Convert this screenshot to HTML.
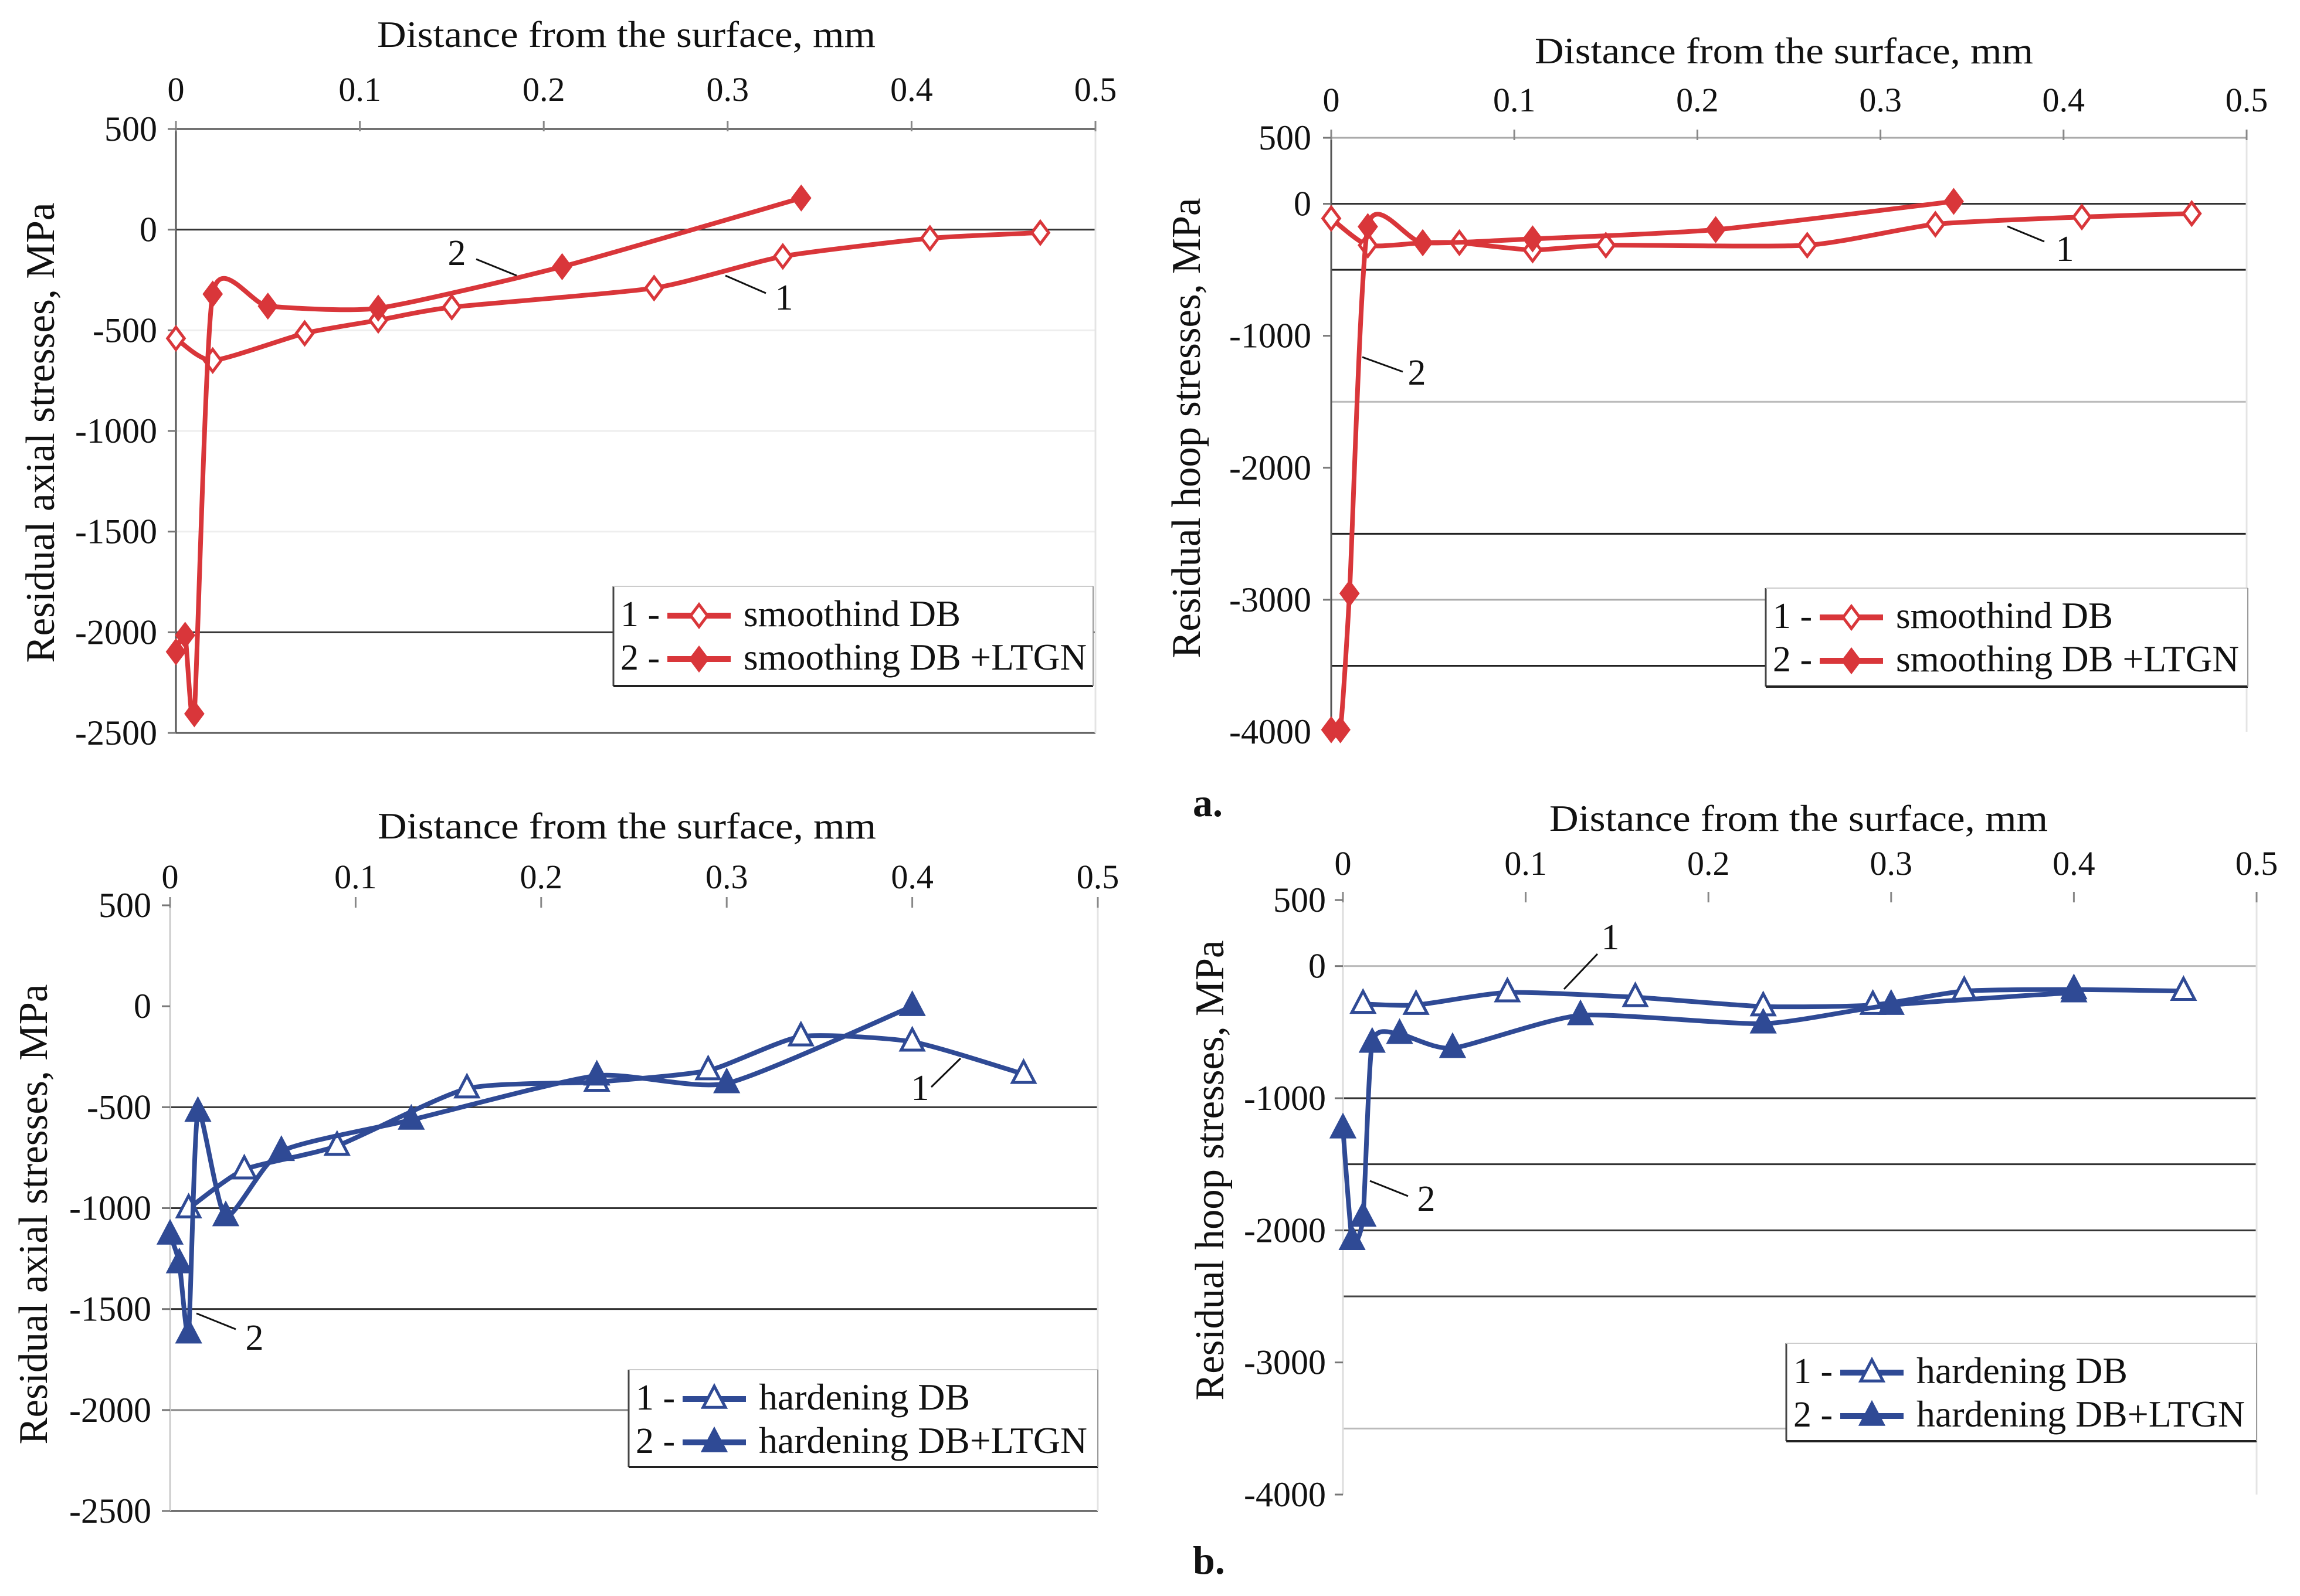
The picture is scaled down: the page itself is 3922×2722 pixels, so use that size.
<!DOCTYPE html>
<html><head><meta charset="utf-8">
<style>
html,body{margin:0;padding:0;background:#fff;}
svg{display:block;font-family:"Liberation Serif",serif;}
</style></head>
<body>
<svg id="fig" width="3922" height="2722" viewBox="0 0 3922 2722" xmlns="http://www.w3.org/2000/svg">
<rect x="0" y="0" width="3922" height="2722" fill="#fff"/>
</svg>
<script>
// ---- Data (top-level arrays) ----
const axialSmoothX = [0, 0.02, 0.07, 0.11, 0.15, 0.26, 0.33, 0.41, 0.47];
const axialSmoothY = [-540, -650, -515, -450, -385, -290, -133, -43, -15];
const axialSmoothLtgnX = [0, 0.005, 0.01, 0.02, 0.05, 0.11, 0.21, 0.34];
const axialSmoothLtgnY = [-2097, -2015, -2405, -320, -380, -390, -184, 157];
const hoopSmoothX = [0, 0.02, 0.05, 0.07, 0.11, 0.15, 0.26, 0.33, 0.41, 0.47];
const hoopSmoothY = [-111, -314, -295, -295, -350, -314, -314, -155, -100, -74];
const hoopSmoothLtgnX = [0, 0.005, 0.01, 0.02, 0.05, 0.11, 0.21, 0.34];
const hoopSmoothLtgnY = [-3985, -3985, -2952, -173, -295, -266, -196, 18];
const axialHardX = [0.01, 0.04, 0.09, 0.16, 0.23, 0.29, 0.34, 0.40, 0.46];
const axialHardY = [-1002, -809, -692, -408, -375, -318, -150, -176, -336];
const axialHardLtgnX = [0, 0.005, 0.01, 0.015, 0.03, 0.06, 0.13, 0.23, 0.30, 0.40];
const axialHardLtgnY = [-1132, -1274, -1622, -524, -1041, -718, -563, -344, -382, 0];
const hoopHardX = [0.011, 0.04, 0.09, 0.16, 0.23, 0.29, 0.34, 0.40, 0.46];
const hoopHardY = [-287, -295, -200, -236, -306, -295, -189, -177, -189];
const hoopHardLtgnX = [0, 0.005, 0.011, 0.016, 0.031, 0.06, 0.13, 0.23, 0.30, 0.40];
const hoopHardLtgnY = [-1230, -2075, -1898, -582, -515, -621, -373, -436, -295, -200];
const xTicks = [0, 0.1, 0.2, 0.3, 0.4, 0.5];
const xTickLabels = ["0", "0.1", "0.2", "0.3", "0.4", "0.5"];
const axialYTicks = [500, 0, -500, -1000, -1500, -2000, -2500];
const axialYLabels = ["500", "0", "-500", "-1000", "-1500", "-2000", "-2500"];
const hoopYTicks = [500, 0, -1000, -2000, -3000, -4000];
const hoopYLabels = ["500", "0", "-1000", "-2000", "-3000", "-4000"];

const NS = "http://www.w3.org/2000/svg";
const svg = document.getElementById("fig");
function el(tag, attrs, parent) {
  const e = document.createElementNS(NS, tag);
  for (const k in attrs) e.setAttribute(k, attrs[k]);
  (parent || svg).appendChild(e);
  return e;
}
function txt(s, attrs, parent) { const t = el("text", attrs, parent); t.textContent = s; return t; }

function smoothPath(pts) {
  if (pts.length < 2) return "";
  let d = "M" + pts[0][0] + "," + pts[0][1];
  const k = 0.6 / 6;
  for (let i = 0; i < pts.length - 1; i++) {
    const p0 = pts[i - 1] || pts[i], p1 = pts[i], p2 = pts[i + 1], p3 = pts[i + 2] || pts[i + 1];
    const c1x = p1[0] + (p2[0] - p0[0]) * k, c1y = p1[1] + (p2[1] - p0[1]) * k;
    const c2x = p2[0] - (p3[0] - p1[0]) * k, c2y = p2[1] - (p3[1] - p1[1]) * k;
    d += " C" + c1x.toFixed(1) + "," + c1y.toFixed(1) + " " + c2x.toFixed(1) + "," + c2y.toFixed(1) + " " + p2[0].toFixed(1) + "," + p2[1].toFixed(1);
  }
  return d;
}

function marker(g, kind, cx, cy, color, filled) {
  const s = 19;
  if (kind === "diamond") {
    return el("polygon", {points: `${cx},${cy-s} ${cx+s*0.75},${cy} ${cx},${cy+s} ${cx-s*0.75},${cy}`,
      fill: filled ? color : "#fff", stroke: color, "stroke-width": 5}, g);
  }
  return el("polygon", {points: `${cx},${cy-s*1.15} ${cx+s},${cy+s*0.75} ${cx-s},${cy+s*0.75}`,
    fill: filled ? color : "#fff", stroke: color, "stroke-width": 5}, g);
}

function panel(cfg) {
  const g = el("g", {});
  
  
  const X = v => cfg.x0 + (cfg.x1 - cfg.x0) * (v / 0.5);
  const Y = v => cfg.yTop + (cfg.yBot - cfg.yTop) * (cfg.ymax - v) / (cfg.ymax - cfg.ymin);
  cfg.grid.forEach(([v, col]) => {
    const l = el("line", {x1: cfg.x0, x2: cfg.x1, y1: Y(v), y2: Y(v), stroke: col, "stroke-width": 3}, g);
    
    
  });
  const ya = el("line", {x1: cfg.x0, x2: cfg.x0, y1: Y(cfg.ymax) - 10, y2: cfg.yBot, stroke: cfg.yAxisCol, "stroke-width": 3}, g);
  
  
  el("line", {x1: cfg.x1, x2: cfg.x1, y1: Y(cfg.ymax), y2: cfg.yBot, stroke: "#e4e4e4", "stroke-width": 3}, g);
  xTicks.forEach((v, i) => {
    el("line", {x1: X(v), x2: X(v), y1: Y(cfg.ymax) - 14, y2: Y(cfg.ymax) + 4, stroke: "#888", "stroke-width": 3}, g);
    const t = txt(xTickLabels[i], {x: X(v), y: cfg.xLabY, "font-size": 58, "text-anchor": "middle", fill: "#111"}, g);
    
    
  });
  cfg.yTicks.forEach((v, i) => {
    el("line", {x1: cfg.x0 - 14, x2: cfg.x0, y1: Y(v), y2: Y(v), stroke: "#777", "stroke-width": 3}, g);
    const t = txt(cfg.yLabels[i], {x: cfg.yLabRight, y: Y(v) + 20, "font-size": 60, "text-anchor": "end", fill: "#111"}, g);
    
    
  });
  const xt = txt("Distance from the surface, mm", {x: cfg.xTitleX, y: cfg.xTitleY, "font-size": 64, "text-anchor": "middle", textLength: 850, lengthAdjust: "spacingAndGlyphs", fill: "#111"}, g);
  
  
  const yt = txt(cfg.yTitle, {x: 0, y: 0, "font-size": 70, "text-anchor": "middle", fill: "#111", textLength: 785, lengthAdjust: "spacingAndGlyphs",
    transform: `translate(${cfg.yTitleX},${cfg.yTitleY}) rotate(-90)`}, g);
  
  
  cfg.series.forEach(s => {
    const pts = s.x.map((v, i) => [X(v), Y(s.y[i])]);
    const p = el("path", {d: smoothPath(pts), fill: "none", stroke: cfg.color, "stroke-width": 8, "stroke-linejoin": "round"}, g);
    
    
    pts.forEach(pt => {
      const m = marker(g, cfg.kind, pt[0], pt[1], cfg.color, s.filled);
      
      
    });
  });
  cfg.notes.forEach(n => {
    el("line", {x1: n.l[0], y1: n.l[1], x2: n.l[2], y2: n.l[3], stroke: "#111", "stroke-width": 3}, g);
    const t = txt(n.t, {x: n.x, y: n.y, "font-size": 62, "text-anchor": "middle", fill: "#111"}, g);
    
    
  });
  const L = cfg.legend;
  const lg = el("g", {}, g);
  
  
  el("rect", {x: L.x, y: L.y, width: L.w, height: L.h, fill: "#fff", stroke: "none"}, lg);
  el("line", {x1: L.x, y1: L.y, x2: L.x, y2: L.y + L.h, stroke: "#444", "stroke-width": 3}, lg);
  el("line", {x1: L.x, y1: L.y + L.h, x2: L.x + L.w, y2: L.y + L.h, stroke: "#222", "stroke-width": 4}, lg);
  el("line", {x1: L.x, y1: L.y, x2: L.x + L.w, y2: L.y, stroke: "#ccc", "stroke-width": 2}, lg);
  el("line", {x1: L.x + L.w, y1: L.y, x2: L.x + L.w, y2: L.y + L.h, stroke: "#999", "stroke-width": 2}, lg);
  L.labels.forEach((lab, i) => {
    const by = L.y + 68 + i * 74;
    const e = el("g", {}, lg);
    
    
    txt((i + 1) + " -", {x: L.x + 12, y: by, "font-size": 62, fill: "#111"}, e);
    el("line", {x1: L.x + 92, x2: L.x + 200, y1: by - 18, y2: by - 18, stroke: cfg.color, "stroke-width": 10}, e);
    marker(e, cfg.kind, L.x + 146, by - 18, cfg.color, i === 1);
    txt(lab, {x: L.x + 222, y: by, "font-size": 64, fill: "#111", textLength: L.tl[i], lengthAdjust: "spacingAndGlyphs"}, e);
  });
}

const RED = "#d9363a", BLUE = "#2f4a95";
panel({
  name: "panel-a-axial", x0: 300, x1: 1868, yTop: 220, yBot: 1250, ymax: 500, ymin: -2500,
  yTicks: axialYTicks, yLabels: axialYLabels, xLabY: 172, yLabRight: 268,
  xTitleX: 1068, xTitleY: 80, yTitle: "Residual axial stresses, MPa", yTitleX: 92, yTitleY: 738,
  yAxisCol: "#555", color: RED, kind: "diamond",
  grid: [[500, "#555"], [0, "#333"], [-500, "#eee"], [-1000, "#eee"], [-1500, "#eee"], [-2000, "#333"], [-2500, "#555"]],
  series: [{name: "smoothing-db", x: axialSmoothX, y: axialSmoothY, filled: false},
           {name: "smoothing-db-ltgn", x: axialSmoothLtgnX, y: axialSmoothLtgnY, filled: true}],
  notes: [{t: "2", x: 779, y: 452, l: [812, 442, 881, 470]}, {t: "1", x: 1337, y: 528, l: [1237, 470, 1306, 500]}],
  legend: {x: 1046, y: 1000, w: 818, h: 170, labels: ["smoothind DB", "smoothing DB +LTGN"], tl: [370, 585]}
});
panel({
  name: "panel-a-hoop", x0: 2270, x1: 3831, yTop: 235, yBot: 1248, ymax: 500, ymin: -4000,
  yTicks: hoopYTicks, yLabels: hoopYLabels, xLabY: 190, yLabRight: 2236,
  xTitleX: 3042, xTitleY: 108, yTitle: "Residual hoop stresses, MPa", yTitleX: 2046, yTitleY: 730,
  yAxisCol: "#555", color: RED, kind: "diamond",
  grid: [[500, "#aaa"], [0, "#333"], [-500, "#222"], [-1500, "#bbb"], [-2500, "#222"], [-3000, "#aaa"], [-3500, "#222"]],
  series: [{name: "smoothing-db", x: hoopSmoothX, y: hoopSmoothY, filled: false},
           {name: "smoothing-db-ltgn", x: hoopSmoothLtgnX, y: hoopSmoothLtgnY, filled: true}],
  notes: [{t: "1", x: 3521, y: 445, l: [3423, 386, 3486, 412]}, {t: "2", x: 2416, y: 656, l: [2323, 609, 2392, 634]}],
  legend: {x: 3011, y: 1003, w: 822, h: 168, labels: ["smoothind DB", "smoothing DB +LTGN"], tl: [370, 585]}
});
panel({
  name: "panel-b-axial", x0: 290, x1: 1872, yTop: 1544, yBot: 2577, ymax: 500, ymin: -2500,
  yTicks: axialYTicks, yLabels: axialYLabels, xLabY: 1515, yLabRight: 258,
  xTitleX: 1069, xTitleY: 1430, yTitle: "Residual axial stresses, MPa", yTitleX: 80, yTitleY: 2071,
  yAxisCol: "#ccc", color: BLUE, kind: "tri",
  grid: [[-500, "#333"], [-1000, "#333"], [-1500, "#333"], [-2000, "#888"], [-2500, "#555"]],
  series: [{name: "hardening-db", x: axialHardX, y: axialHardY, filled: false},
           {name: "hardening-db-ltgn", x: axialHardLtgnX, y: axialHardLtgnY, filled: true}],
  notes: [{t: "1", x: 1569, y: 1876, l: [1588, 1854, 1638, 1805]}, {t: "2", x: 434, y: 2302, l: [335, 2240, 402, 2267]}],
  legend: {x: 1072, y: 2336, w: 800, h: 166, labels: ["hardening DB", "hardening DB+LTGN"], tl: [360, 560]}
});
panel({
  name: "panel-b-hoop", x0: 2290, x1: 3848, yTop: 1535, yBot: 2549, ymax: 500, ymin: -4000,
  yTicks: hoopYTicks, yLabels: hoopYLabels, xLabY: 1492, yLabRight: 2261,
  xTitleX: 3067, xTitleY: 1417, yTitle: "Residual hoop stresses, MPa", yTitleX: 2086, yTitleY: 1996,
  yAxisCol: "#ddd", color: BLUE, kind: "tri",
  grid: [[0, "#bbb"], [-1000, "#333"], [-1500, "#333"], [-2000, "#333"], [-2500, "#444"], [-3500, "#bbb"]],
  series: [{name: "hardening-db", x: hoopHardX, y: hoopHardY, filled: false},
           {name: "hardening-db-ltgn", x: hoopHardLtgnX, y: hoopHardLtgnY, filled: true}],
  notes: [{t: "1", x: 2746, y: 1619, l: [2667, 1687, 2724, 1627]}, {t: "2", x: 2432, y: 2065, l: [2336, 2014, 2401, 2040]}],
  legend: {x: 3046, y: 2291, w: 802, h: 167, labels: ["hardening DB", "hardening DB+LTGN"], tl: [360, 560]}
});
const a = txt("a.", {x: 2034, y: 1392, "font-size": 68, "font-weight": "bold", fill: "#111"});


const b = txt("b.", {x: 2034, y: 2684, "font-size": 68, "font-weight": "bold", fill: "#111"});


</script>
</body></html>
